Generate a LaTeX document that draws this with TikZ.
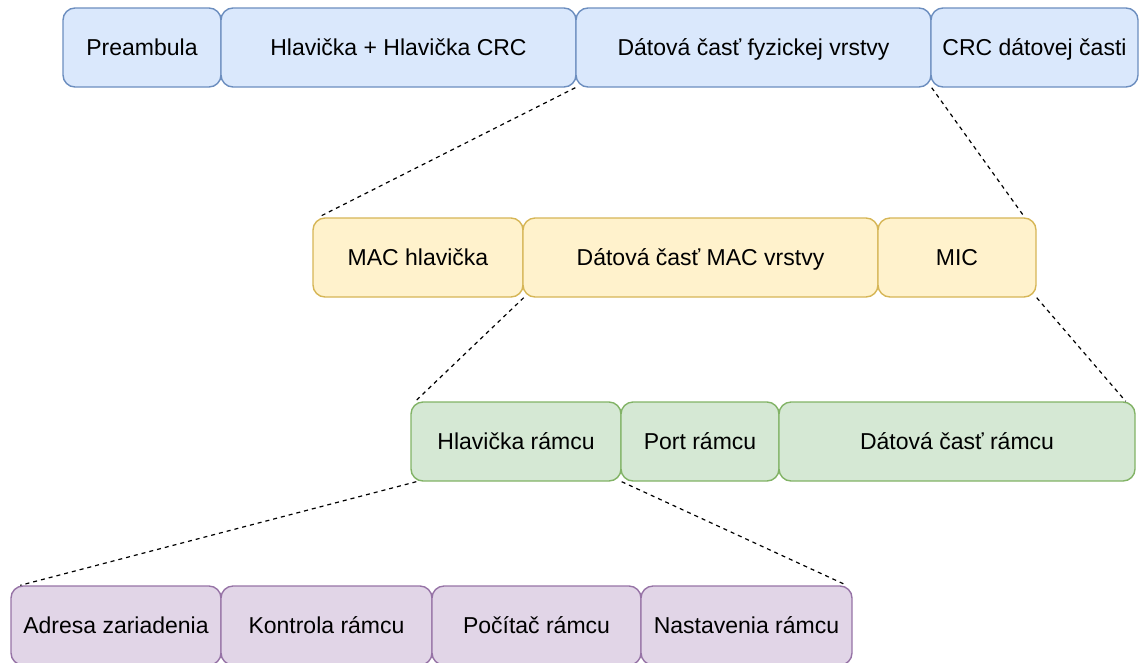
\documentclass[tikz,border=0pt]{standalone}
\usepackage{fontspec}
\setmainfont{Liberation Sans}
\definecolor{bfill}{HTML}{DAE8FC}\definecolor{bdraw}{HTML}{6C8EBF}
\definecolor{yfill}{HTML}{FFF2CC}\definecolor{ydraw}{HTML}{D6B656}
\definecolor{gfill}{HTML}{D5E8D4}\definecolor{gdraw}{HTML}{82B366}
\definecolor{pfill}{HTML}{E1D5E7}\definecolor{pdraw}{HTML}{9673A6}
\tikzset{
  box/.style={rectangle, rounded corners=12pt, line width=1.4pt, inner sep=0pt,
    minimum height=79pt, text height=19pt, text depth=4pt,
    font=\fontsize{23}{27}\selectfont, text=black},
  bluebox/.style={box, fill=bfill, draw=bdraw},
  yelbox/.style={box, fill=yfill, draw=ydraw},
  grnbox/.style={box, fill=gfill, draw=gdraw},
  purbox/.style={box, fill=pfill, draw=pdraw},
  conn/.style={draw=black, line width=1.2pt, dash pattern=on 4pt off 4pt}
}
\begin{document}
\begin{tikzpicture}[x=1pt, y=-1pt]
\useasboundingbox (0,0) rectangle (1139,662);
% row 1
\node[bluebox, minimum width=158pt] (pre)  at (142,47.5)   {Preambula};
\node[bluebox, minimum width=355pt] (hlav) at (398.5,47.5) {Hlavička + Hlavička CRC};
\node[bluebox, minimum width=355pt] (dat)  at (753.5,47.5) {Dátová časť fyzickej vrstvy};
\node[bluebox, minimum width=207pt] (crc)  at (1034.5,47.5) {CRC dátovej časti};
% row 2
\node[yelbox, minimum width=210pt] (mac)    at (418,257.5)   {MAC hlavička};
\node[yelbox, minimum width=355pt] (datmac) at (700.5,257.5) {Dátová časť MAC vrstvy};
\node[yelbox, minimum width=158pt] (mic)    at (957,257.5)   {MIC};
% row 3
\node[grnbox, minimum width=210pt] (hr)   at (516,441.5) {Hlavička rámcu};
\node[grnbox, minimum width=158pt] (port) at (700,441.5) {Port rámcu};
\node[grnbox, minimum width=356pt] (datr) at (957,441.5) {Dátová časť rámcu};
% row 4
\node[purbox, minimum width=210pt] (adr) at (116,625.5)   {Adresa zariadenia};
\node[purbox, minimum width=211pt] (kon) at (326.5,625.5) {Kontrola rámcu};
\node[purbox, minimum width=209pt] (poc) at (536.5,625.5) {Počítač rámcu};
\node[purbox, minimum width=211pt] (nas) at (746.5,625.5) {Nastavenia rámcu};
% connectors
\draw[conn] (dat.south west) -- ([xshift=6pt]mac.north west);
\draw[conn] (dat.south east) -- ([xshift=-12pt]mic.north east);
\draw[conn] (mac.south east) -- ([xshift=5pt]hr.north west);
\draw[conn] (mic.south east) -- ([xshift=-10pt]datr.north east);
\draw[conn] ([xshift=6pt]hr.south west) -- ([xshift=10pt]adr.north west);
\draw[conn] (hr.south east) -- ([xshift=-6pt]nas.north east);
\end{tikzpicture}
\end{document}
